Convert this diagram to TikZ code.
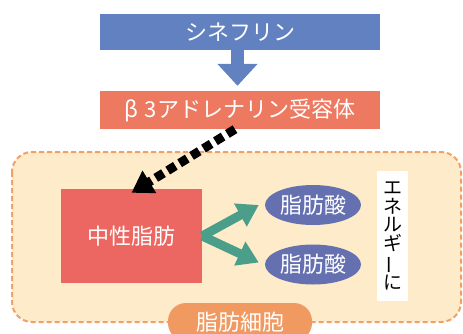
\documentclass[tikz,border=0pt]{standalone}
\usepackage{fontspec}
\usepackage{graphicx}
\setmainfont{Noto Sans CJK JP}
\usetikzlibrary{arrows.meta,shapes.geometric,calc}
\definecolor{sblue}{HTML}{6281C0}
\definecolor{bred}{HTML}{EE7961}
\definecolor{fatred}{HTML}{EC6762}
\definecolor{cream}{HTML}{FEEBC9}
\definecolor{cellor}{HTML}{F3A066}
\definecolor{pillor}{HTML}{F09A62}
\definecolor{fablue}{HTML}{6570B1}
\definecolor{grn}{HTML}{4B9F8A}
\tikzset{
  box/.style={draw=none, inner sep=0pt, text=white, font=\fontsize{22}{26}\selectfont},
  faell/.style={ellipse, fill=fablue, draw=none, inner sep=0pt, minimum width=96pt, minimum height=40pt, text=white, font=\fontsize{22}{26}\selectfont},
  garrow/.style={grn, line width=9pt, -{Triangle[width=25pt,length=21pt]}},
  darrow/.style={black, line width=9pt, dash pattern=on 9pt off 5pt, -{Triangle[width=25pt,length=21pt]}},
  barrow/.style={sblue, line width=13pt, -{Triangle[width=39pt,length=22pt]}},
  cell/.style={draw=cellor, fill=cream, line width=2pt, dash pattern=on 5pt off 3pt, rounded corners=20pt}
}
\begin{document}
\begin{tikzpicture}[x=1pt,y=-1pt]
\useasboundingbox (0,0) rectangle (463,333);
\clip (0,0) rectangle (463,333);
\draw[cell] (12,152) rectangle (461,322);
\node[box, fill=sblue, minimum width=280pt, minimum height=36pt] (syn) at (240,32) {シネフリン};
\node[box, fill=bred, minimum width=280pt, minimum height=38pt] (b3) at (240,110) {β\hspace{6pt}3アドレナリン受容体};
\node[box, fill=fatred, minimum width=141pt, minimum height=94pt] (fat) at (131.5,236) {中性脂肪};
\node[faell] (fa1) at (313,205) {脂肪酸};
\node[faell] (fa2) at (313,264.5) {脂肪酸};
\node[fill=white, inner sep=0pt, minimum width=31pt, minimum height=130pt, align=center, font=\fontsize{19}{18.5}\selectfont] (ene) at (392.5,236) {エ\\ネ\\ル\\ギ\\\rotatebox[origin=c]{90}{ー}\\に};
\node[box, fill=pillor, minimum width=144pt, minimum height=38pt, rounded corners=18pt] (cellname) at (240,322) {脂肪細胞};
\draw[barrow] ($(syn.south)+(-2.5,0)$) -- ($(b3.north)+(-2.5,-5)$);
\draw[darrow] ($(b3.south)+(-5,0)$) -- ($(fat.north)+(0,4)$);
\draw[garrow] (fat.east) -- ($(fa1.west)+(-6,0)$);
\draw[garrow] (fat.east) -- ($(fa2.west)+(-6,-2)$);
\end{tikzpicture}
\end{document}
